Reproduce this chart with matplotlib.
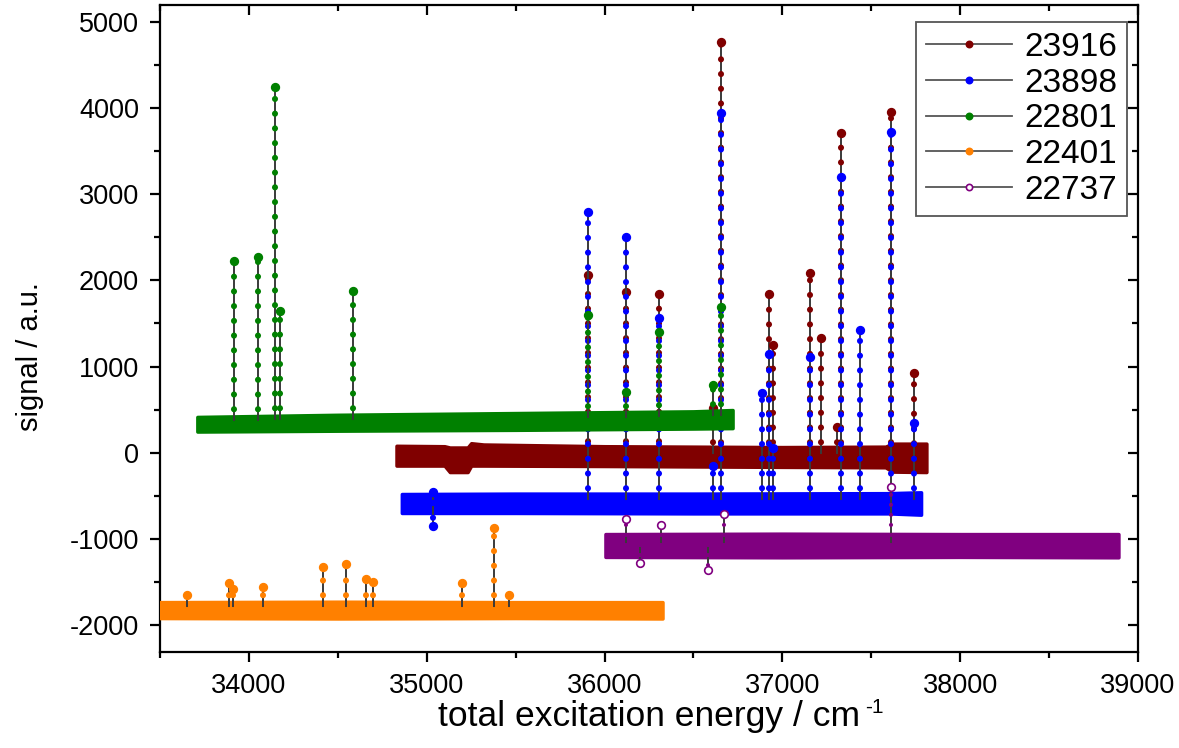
import numpy as np
import matplotlib
matplotlib.use("Agg")
from matplotlib import pyplot as plt
from matplotlib.lines import Line2D, TICKLEFT, TICKDOWN
from matplotlib.ticker import MultipleLocator

# run labels
labels = ["23916", "23898", "22801", "22401", "22737"]
colors = ["#800000", "#0000ff", "#008000", "#ff8000", "#800080"]

# baseline band of every scan: knot positions, lower and upper edge of the noise
red_x = [34830, 35100, 35130, 35230, 35250, 35320, 36000, 37000, 37580, 37620, 37810]
red_lo = [-150, -150, -225, -225, -150, -150, -155, -165, -170, -220, -225]
red_hi = [80, 75, 60, 60, 110, 95, 75, 65, 70, 105, 105]

blue_x = [34860, 35500, 36500, 37600, 37780]
blue_lo = [-700, -700, -705, -705, -720]
blue_hi = [-480, -475, -475, -470, -460]

green_x = [33710, 34500, 35500, 36500, 36720]
green_lo = [245, 255, 265, 280, 285]
green_hi = [415, 440, 460, 480, 495]

orange_x = [33480, 34500, 35500, 36326]
orange_lo = [-1920, -1925, -1920, -1925]
orange_hi = [-1735, -1730, -1735, -1735]

purple_x = [36005, 37000, 38000, 38890]
purple_lo = [-1210, -1215, -1210, -1215]
purple_hi = [-945, -940, -945, -945]

# line positions and peak signal of every scan
red_peak_x = [35905, 36118, 36309, 36612, 36657, 36927, 36949, 37157, 37219,
              37310, 37331, 37612, 37742]
red_peak_y = [2060, 1860, 1840, 520, 4770, 1840, 1250, 2090, 1330,
              300, 3710, 3950, 920]

blue_peak_x = [35033, 35033, 35905, 36118, 36309, 36612, 36657, 36888, 36927,
               36949, 37157, 37331, 37438, 37612, 37742]
blue_peak_y = [-460, -850, 2790, 2500, 1560, -160, 3940, 690, 1150,
               60, 1110, 3200, 1420, 3720, 350]

green_peak_x = [33916, 34050, 34146, 34174, 34585, 35905, 36118, 36309, 36612, 36657]
green_peak_y = [2220, 2270, 4250, 1650, 1880, 1600, 700, 1400, 780, 1690]

orange_peak_x = [33652, 33888, 33910, 34079, 34416, 34545, 34657, 34697, 35197,
                 35376, 35460]
orange_peak_y = [-1655, -1516, -1585, -1562, -1330, -1295, -1470, -1505, -1516,
                 -880, -1650]

purple_peak_x = [36118, 36197, 36320, 36580, 36669, 37612]
purple_peak_y = [-770, -1280, -840, -1360, -714, -400]

base_x = [red_x, blue_x, green_x, orange_x, purple_x]
base_lo = [red_lo, blue_lo, green_lo, orange_lo, purple_lo]
base_hi = [red_hi, blue_hi, green_hi, orange_hi, purple_hi]
peak_x = [red_peak_x, blue_peak_x, green_peak_x, orange_peak_x, purple_peak_x]
peak_y = [red_peak_y, blue_peak_y, green_peak_y, orange_peak_y, purple_peak_y]
open_marker = [False, False, False, False, True]

plt.rcParams['font.family'] = ['Liberation Sans', 'DejaVu Sans']
plt.rcParams['axes.unicode_minus'] = False

fig = plt.figure(figsize=(11.79, 7.48), dpi=100)
ax = fig.add_axes([160 / 1179, 96 / 748, 978 / 1179, 647 / 748])

handles = []
for i in range(len(labels)):
    c = colors[i]
    z = 2 + i
    bx = np.array(base_x[i], dtype=float)
    lo = np.array(base_lo[i], dtype=float)
    hi = np.array(base_hi[i], dtype=float)
    mid = (lo + hi) / 2

    # noise band of the scan
    ax.fill_between(bx, lo, hi, color=c, lw=2.5, edgecolor=c, zorder=z)

    # lines: black stick with the scan points stacked along it
    px = np.array(peak_x[i], dtype=float)
    py = np.array(peak_y[i], dtype=float)
    foot = np.interp(px, bx, mid)
    ax.vlines(px, foot, py, color="#3a3a3a", lw=1.4, zorder=z + 0.1)
    for xx, f, yy in zip(px, foot, py):
        ax.plot([xx, xx], [f, yy], color=c, lw=3 if open_marker[i] else 4.4,
                linestyle=(0, (0.01, 2.4)), dash_capstyle='round',
                zorder=z + 0.2)
    mfc = "white" if open_marker[i] else c
    ax.plot(px, py, "o", ms=5.5, mfc=mfc, mec=c, mew=1.2, zorder=z + 0.3)

    handles.append(Line2D([], [], color="#555555", lw=1.3, marker="o", ms=4.5,
                          mfc=mfc, mec=c, mew=1.2))

ax.set_xlim(33500, 39000)
ax.set_ylim(-2314, 5197)

ax.xaxis.set_major_locator(MultipleLocator(1000))
ax.xaxis.set_minor_locator(MultipleLocator(500))
ax.yaxis.set_major_locator(MultipleLocator(1000))
ax.yaxis.set_minor_locator(MultipleLocator(500))

for s in ax.spines.values():
    s.set_linewidth(1.6)
ax.tick_params(which="both", direction="out", width=1.6, labelsize=19.5,
               top=True, right=True, pad=8)
ax.tick_params(which="major", length=7)
ax.tick_params(which="minor", length=4.5)
# ticks on the right and top point into the frame
for tick in ax.yaxis.get_major_ticks() + ax.yaxis.get_minor_ticks():
    tick.tick2line.set_marker(TICKLEFT)
for tick in ax.xaxis.get_major_ticks() + ax.xaxis.get_minor_ticks():
    tick.tick2line.set_marker(TICKDOWN)

ax.set_xlabel("total excitation energy / cm", fontsize=25.5, labelpad=1)
ax.set_ylabel("signal / a.u.", fontsize=21)
ax.yaxis.set_label_coords(-0.119, 0.456)

leg = ax.legend(handles, labels, loc="upper right",
                bbox_to_anchor=(0.9888, 0.9737), borderaxespad=0,
                fontsize=24, frameon=True, fancybox=False, framealpha=1,
                edgecolor="#555555", handlelength=2.6, handletextpad=0.35,
                labelspacing=0.14, borderpad=0.3)
leg.get_frame().set_linewidth(1.3)

# exponent of the unit, set with a plain hyphen
fig.canvas.draw()
bb = ax.xaxis.label.get_window_extent()
fig.text(bb.x1 / 1179 + 0.004, (bb.y1 + 2) / 748, "-1", fontsize=15,
         ha="left", va="top")

fig.savefig("out.png", dpi=100)
